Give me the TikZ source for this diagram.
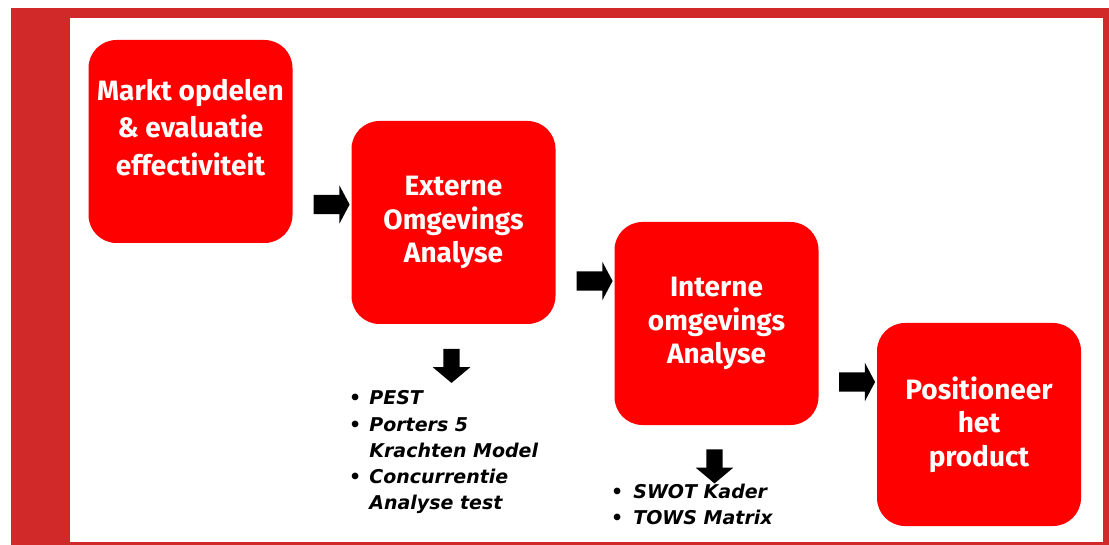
\documentclass[tikz,border=0pt]{standalone}
\usepackage{fontspec}
\setmainfont{Fira Sans}
\newfontfamily\listfont{DejaVu Sans}
\usetikzlibrary{shapes.arrows, calc}

\definecolor{framered}{HTML}{D1292A}
\definecolor{boxred}{HTML}{FF0000}

\begin{document}
\begin{tikzpicture}[
    x=1pt, y=-1pt,
    box/.style={fill=boxred, rounded corners=28pt, minimum width=204pt, minimum height=203pt,
                inner sep=0pt, align=center, text=white,
                font=\fontsize{28}{33.5}\selectfont\bfseries},
    blockarrow/.style={single arrow, fill=black, inner xsep=0pt, single arrow head indent=0pt},
    rarrow/.style={blockarrow, inner ysep=9.5pt, single arrow head extend=9.5pt,
                   minimum height=36pt, single arrow tip angle=124},
    darrow/.style={blockarrow, rotate=-90, inner ysep=8pt, single arrow head extend=10.5pt,
                   minimum height=34pt, single arrow tip angle=100},
    itemlist/.style={anchor=base west, inner sep=0pt,
                     font=\listfont\fontsize{19}{26.2}\selectfont\bfseries\itshape},
]

% page and frame (y grows downward)
\fill[white] (0,0) rectangle (1109,545);
\fill[framered] (11,8) rectangle (1109,545);
\fill[white] (70,18) rectangle (1103,542);
\useasboundingbox (0,0) rectangle (1109,545);

% the four steps, stepping down to the right
\node[box] at (190.5,141.5) (markt) {};
\node[box, fill=none, font=\fontsize{28}{37.5}\selectfont\bfseries]
      at ([yshift=14pt]markt.center) (markttxt) {Markt opdelen\\\&~evaluatie\\effectiviteit};
\node[box] at (453.5,222.5) (extern) {Externe\\Omgevings\\Analyse};
\node[box] at (716.5,323.5) (intern) {Interne\\omgevings\\Analyse};
\node[box] at (979,424.5)   (pos)    {Positioneer\\het\\product};

% block arrows between the steps
\node[rarrow] at (329,204.5) (a1) {};
\node[rarrow] at (592,281)   (a2) {};
\node[rarrow] at (854.5,382) (a3) {};

% arrows down to the tools
\node[darrow] at (451.5,362.5) (d1) {};
\node[darrow] at (714.5,463) (d2) {};

% tool lists
\node[itemlist] at (349,405) (exttools) {\begin{tabular}[t]{@{}l@{\hspace{8pt}}l@{}}
    {\upshape\textbullet} & PEST\\
    {\upshape\textbullet} & Porters 5\\
                          & Krachten Model\\
    {\upshape\textbullet} & Concurrentie\\
                          & Analyse test
\end{tabular}};
\node[itemlist] at (611,498) (inttools) {\begin{tabular}[t]{@{}l@{\hspace{10pt}}l@{}}
    {\upshape\textbullet} & SWOT Kader\\
    {\upshape\textbullet} & TOWS Matrix
\end{tabular}};

\end{tikzpicture}
\end{document}
